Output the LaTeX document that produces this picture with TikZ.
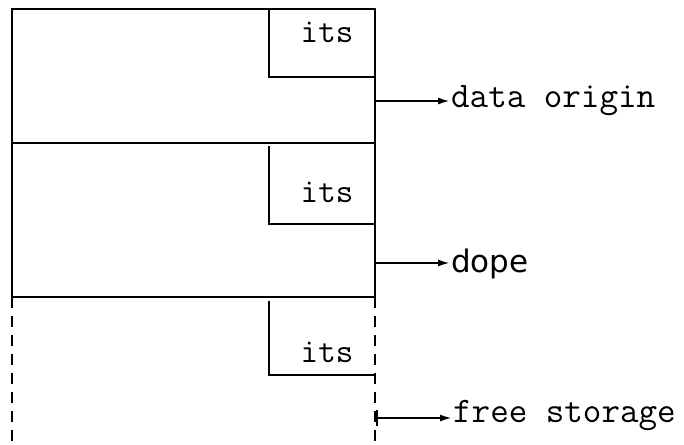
\documentclass[tikz,border=0pt]{standalone}
\usepackage{fontspec}
\setsansfont{DejaVu Sans}
\usetikzlibrary{arrows.meta}
\usetikzlibrary{positioning}
\tikzset{%
  wall/.style={line width=2pt, line cap=round},
  gapwall/.style={line width=2pt, dash pattern=on 11pt off 8pt},
  tagline/.style={line width=1.3pt},
  myedge/.style={-{Latex[length=11pt,width=7pt]}, line width=1.2pt, shorten >=2pt},
  mylabel/.style={anchor=base west, inner sep=0pt, font=\ttfamily\fontsize{36}{40}\selectfont},
  mytag/.style={inner sep=0pt, font=\ttfamily\fontsize{34}{38}\selectfont}
}

\begin{document}
\begin{tikzpicture}[x=1pt,y=-1pt]
  \useasboundingbox (0,0) rectangle (684,444);
  % corners of the column
  \coordinate (tl) at (12,9);
  \coordinate (tr) at (375,9);
  \coordinate (ml) at (12,143);
  \coordinate (mr) at (375,143);
  \coordinate (bl) at (12,297);
  \coordinate (br) at (375,297);
  \coordinate (el) at (12,444);
  \coordinate (er) at (375,444);
  \draw[wall] (tr) -- (tl) -- (bl);
  \draw[wall] (tr) -- (br);
  \draw[wall] (ml) -- (mr);
  \draw[wall] (bl) -- (br);
  \draw[gapwall] (bl) -- (el);
  \draw[gapwall] (br) -- (er);
  % small boxes in the corners
  \foreach \i/\t/\b/\m in {1/9/77/32, 2/146/224/192, 3/301/375/352}{
    \draw[tagline] (269,\t) -- (269,\b) -- (375,\b);
    \node[mytag] (its\i) at (327,\m) {its};
  }
  % pointers out of the column
  \coordinate (p1) at (375,101);
  \coordinate (p2) at (375,263);
  \coordinate (p3) at (375,418);
  \node[mylabel] (orig) at (451,107) {data origin};
  \node[mylabel, font=\sffamily\fontsize{31}{36}\selectfont] (dope) at (451,272) {dope};
  \node[mylabel] (free) at (453,422) {free storage};
  \draw[myedge] (p1) -- (p1 -| orig.west);
  \draw[myedge] (p2) -- (p2 -| dope.west);
  \draw[myedge] (p3) -- (p3 -| free.west);
  \draw[tagline] (377,410) -- (377,426);
\end{tikzpicture}
\end{document}
